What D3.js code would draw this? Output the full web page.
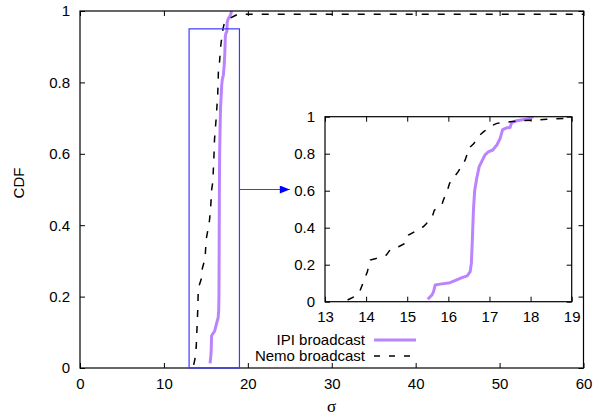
<!DOCTYPE html>
<html lang="en">
<head>
    <meta charset="UTF-8">
    <title>CDF of sigma</title>
    <script src="https://d3js.org/d3.v7.min.js" charset="utf-8"></script>
    <style>
        body { margin: 0; background: #fff; }
        text { font-family: "Liberation Sans", Arial, sans-serif; font-size: 15px; fill: #000; }
    </style>
</head>
<body>
    <div id="vis"></div>

    <script>

        // IPI broadcast CDF (sigma, cdf)
        var ipiSigma = [15.50, 15.60, 15.64, 15.68, 15.80, 16.04, 16.16, 16.33, 16.46, 16.53, 16.56, 16.58, 16.61, 16.64,
                        16.69, 16.75, 16.81, 16.89, 16.97, 17.08, 17.18, 17.26, 17.32, 17.42, 17.50, 17.54, 17.66, 17.91, 18.07];
        var ipiCdf   = [0.013, 0.036, 0.054, 0.09, 0.095, 0.103, 0.114, 0.13, 0.14, 0.162, 0.207, 0.315, 0.495, 0.60,
                        0.667, 0.73, 0.757, 0.793, 0.81, 0.82, 0.847, 0.883, 0.93, 0.94, 0.942, 0.968, 0.978, 0.987, 1.0];

        // Nemo broadcast CDF
        var nemoSigma = [13.55, 13.71, 13.85, 13.92, 14.03, 14.10, 14.24, 14.49, 14.58, 14.79, 14.92, 15.03, 15.15, 15.39,
                         15.47, 15.62, 15.66, 15.84, 15.88, 15.98, 16.03, 16.16, 16.24, 16.41, 16.45, 16.49, 16.61, 16.76,
                         16.86, 17.04, 17.18, 17.50, 17.74, 18.39, 18.84, 60];
        var nemoCdf   = [0.009, 0.027, 0.059, 0.099, 0.162, 0.225, 0.234, 0.252, 0.279, 0.297, 0.312, 0.36, 0.375, 0.405,
                         0.423, 0.468, 0.495, 0.523, 0.55, 0.604, 0.64, 0.68, 0.703, 0.766, 0.793, 0.829, 0.852, 0.90,
                         0.919, 0.95, 0.964, 0.973, 0.978, 0.986, 0.991, 0.991];

        var mainXTicks = [0, 10, 20, 30, 40, 50, 60];
        var yTicks = [0, 0.2, 0.4, 0.6, 0.8, 1];
        var insetXTicks = [13, 14, 15, 16, 17, 18, 19];

        // zoom box in data units
        var zoomBox = { x0: 13, x1: 19, y0: 0, y1: 0.95 };

        var purple = "#bb84ff";
        var blue = "#3b3bff";

        var ipi = ipiSigma.map(function(s, i) { return { x: s, y: ipiCdf[i] }; });
        var nemo = nemoSigma.map(function(s, i) { return { x: s, y: nemoCdf[i] }; });

        var svg = d3.select("#vis")
            .append("svg")
              .attr("width", 593)
              .attr("height", 415);

        var fmt = function(d) { return +d.toFixed(1); };

        function panel(g, x, y, xTicks, clipId) {
            var w = x.range()[1] - x.range()[0];
            var h = y.range()[0] - y.range()[1];
            var tl = 5;

            g.append("clipPath").attr("id", clipId)
              .append("rect")
                .attr("x", x.range()[0]).attr("y", y.range()[1])
                .attr("width", w).attr("height", h);

            // bottom
            g.append("g")
                .attr("transform", "translate(0," + y.range()[0] + ")")
                .call(d3.axisBottom(x).tickValues(xTicks).tickFormat(fmt).tickSize(-tl).tickPadding(10))
                .call(function(a) { a.select(".domain").remove(); });
            // top
            g.append("g")
                .attr("transform", "translate(0," + y.range()[1] + ")")
                .call(d3.axisTop(x).tickValues(xTicks).tickFormat("").tickSize(-tl))
                .call(function(a) { a.select(".domain").remove(); });
            // left
            g.append("g")
                .attr("transform", "translate(" + x.range()[0] + ",0)")
                .call(d3.axisLeft(y).tickValues(yTicks).tickFormat(fmt).tickSize(-tl).tickPadding(10))
                .call(function(a) { a.select(".domain").remove(); });
            // right
            g.append("g")
                .attr("transform", "translate(" + x.range()[1] + ",0)")
                .call(d3.axisRight(y).tickValues(yTicks).tickFormat("").tickSize(-tl))
                .call(function(a) { a.select(".domain").remove(); });

            g.selectAll(".tick text")
                .style("font-family", "'Liberation Sans', Arial, sans-serif")
                .style("font-size", "15px");
            g.selectAll(".tick line").attr("stroke", "#000");

            var line = d3.line()
                .x(function(d) { return x(d.x); })
                .y(function(d) { return y(d.y); });

            var curves = g.append("g").attr("clip-path", "url(#" + clipId + ")");

            curves.append("path")
                .datum(ipi)
                .attr("fill", "none")
                .attr("stroke", purple)
                .attr("stroke-width", 3)
                .attr("stroke-linejoin", "round")
                .attr("d", line);

            curves.append("path")
                .datum(nemo)
                .attr("fill", "none")
                .attr("stroke", "#000")
                .attr("stroke-width", 1.5)
                .attr("stroke-dasharray", "7,9")
                .attr("d", line);

            g.append("rect")
                .attr("x", x.range()[0]).attr("y", y.range()[1])
                .attr("width", w).attr("height", h)
                .attr("fill", "none")
                .attr("stroke", "#000")
                .attr("stroke-width", 1.2);
        }

        // main plot
        var x_scale = d3.scaleLinear().domain([0, 60]).range([80, 583.5]);
        var y_scale = d3.scaleLinear().domain([0, 1]).range([368, 11]);

        var mainG = svg.append("g");
        panel(mainG, x_scale, y_scale, mainXTicks, "clipMain");

        // zoom rectangle and arrow
        svg.append("rect")
            .attr("x", x_scale(zoomBox.x0))
            .attr("y", y_scale(zoomBox.y1))
            .attr("width", x_scale(zoomBox.x1) - x_scale(zoomBox.x0))
            .attr("height", y_scale(zoomBox.y0) - y_scale(zoomBox.y1))
            .attr("fill", "none")
            .attr("stroke", blue)
            .attr("stroke-width", 1.2);

        svg.append("defs").append("marker")
            .attr("id", "arrow")
            .attr("viewBox", "0 0 10 8")
            .attr("refX", 10).attr("refY", 4)
            .attr("markerWidth", 11).attr("markerHeight", 8)
            .attr("markerUnits", "userSpaceOnUse")
            .attr("orient", "auto")
          .append("path")
            .attr("d", "M0,0 L10,4 L0,8 Z")
            .attr("fill", "#0000ff");

        svg.append("line")
            .attr("x1", x_scale(zoomBox.x1)).attr("y1", y_scale(0.5))
            .attr("x2", x_scale(25)).attr("y2", y_scale(0.5))
            .attr("stroke", blue)
            .attr("stroke-width", 1.2)
            .attr("marker-end", "url(#arrow)");

        // inset
        var xi = d3.scaleLinear().domain([13, 19]).range([325, 571.7]);
        var yi = d3.scaleLinear().domain([0, 1]).range([301.7, 116.7]);

        var insetG = svg.append("g");
        insetG.append("rect")
            .attr("x", 325).attr("y", 116.7)
            .attr("width", 246.7).attr("height", 185)
            .attr("fill", "#fff");
        panel(insetG, xi, yi, insetXTicks, "clipInset");

        // legend
        var legend = svg.append("g");
        legend.append("text")
            .attr("x", 365).attr("y", 340)
            .attr("dy", "0.35em")
            .attr("text-anchor", "end")
            .text("IPI broadcast");
        legend.append("line")
            .attr("x1", 374).attr("x2", 416)
            .attr("y1", 340).attr("y2", 340)
            .attr("stroke", purple)
            .attr("stroke-width", 3);
        legend.append("text")
            .attr("x", 365).attr("y", 356)
            .attr("dy", "0.35em")
            .attr("text-anchor", "end")
            .text("Nemo broadcast");
        legend.append("line")
            .attr("x1", 374).attr("x2", 416)
            .attr("y1", 356).attr("y2", 356)
            .attr("stroke", "#000")
            .attr("stroke-width", 1.5)
            .attr("stroke-dasharray", "6,9");

        // axis labels
        svg.append("text")
            .attr("x", 331.5).attr("y", 412)
            .attr("text-anchor", "middle")
            .style("font-family", "'Liberation Serif', 'DejaVu Serif', serif")
            .style("font-size", "17px")
            .text("σ");

        svg.append("text")
            .attr("transform", "translate(24,183) rotate(-90)")
            .attr("text-anchor", "middle")
            .text("CDF");

    </script>
</body>
</html>
